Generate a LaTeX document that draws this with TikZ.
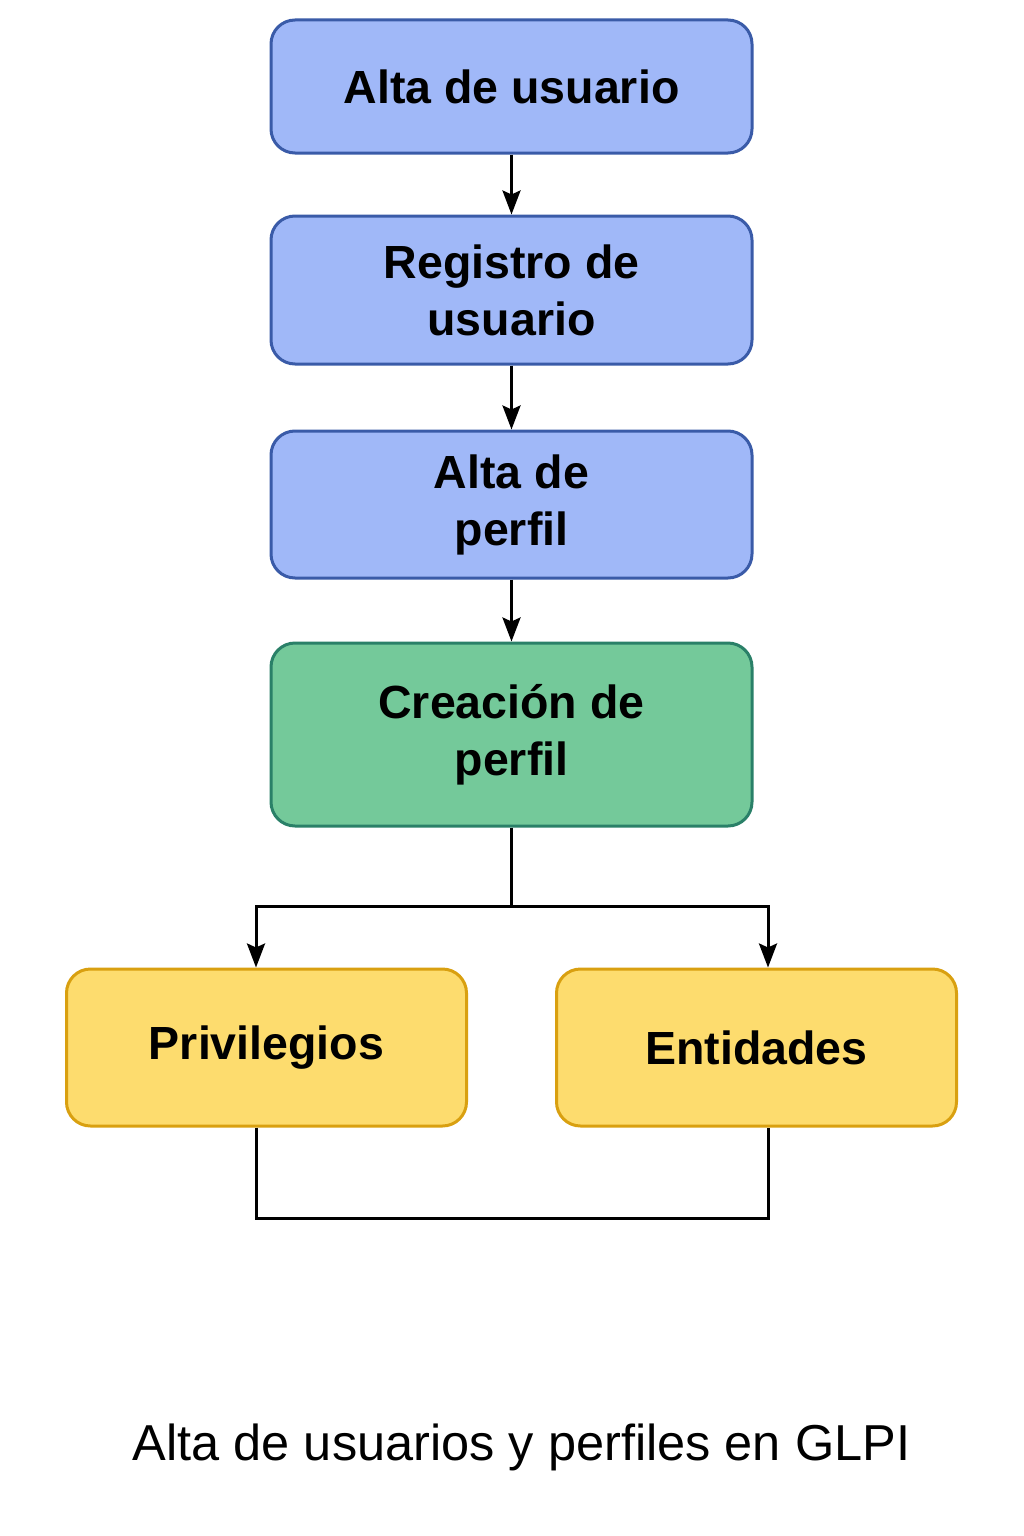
\documentclass[tikz,border=0pt]{standalone}
\usepackage{fontspec}
\setmainfont{Liberation Sans}
\usetikzlibrary{arrows.meta}
\definecolor{bluefill}{HTML}{A0B8F8}
\definecolor{blueline}{HTML}{3A5BA8}
\definecolor{greenfill}{HTML}{74C99A}
\definecolor{greenline}{HTML}{2A8068}
\definecolor{yellowfill}{HTML}{FDDC6E}
\definecolor{yellowline}{HTML}{D9A010}
\tikzset{
  boxbase/.style={rounded corners=24pt, line width=3pt, align=center,
    font=\fontsize{46.5}{57}\selectfont\bfseries, inner sep=0pt},
  bluebox/.style={boxbase, draw=blueline, fill=bluefill, minimum width=481pt},
  greenbox/.style={boxbase, draw=greenline, fill=greenfill, minimum width=481pt},
  yellowbox/.style={boxbase, draw=yellowline, fill=yellowfill, minimum width=400pt, minimum height=157pt},
  conn/.style={line width=3pt, black},
  arr/.style={conn, -{Stealth[length=24pt,width=18pt,inset=4pt]}},
}
\begin{document}
\begin{tikzpicture}[x=1pt,y=-1pt]
\useasboundingbox[fill=white] (0,0) rectangle (1024,1536);
\node[bluebox, minimum height=133pt] (a) at (511.5,86.5) {Alta de usuario};
\node[bluebox, minimum height=148pt] (b) at (511.5,290) {Registro de\\usuario};
\node[bluebox, minimum height=147pt] (c) at (511.5,504.5) {Alta de\\perfil};
\node[greenbox, minimum height=183pt] (d) at (511.5,734.5) {Creación de\\perfil};
\node[yellowbox] (p) at (266.5,1047.5) {Privilegios};
\node[yellowbox] (e) at (756.5,1047.5) {Entidades};
\node[font=\fontsize{50.5}{60}\selectfont] (t) at (521.5,1447) {Alta de usuarios y perfiles en GLPI};
\coordinate (j) at (511.5,906);
\coordinate (bl) at (256,1218);
\coordinate (br) at (768,1218);
\draw[arr] (a.south) -- (b.north);
\draw[arr] (b.south) -- (c.north);
\draw[arr] (c.south) -- (d.north);
\draw[conn] (d.south) -- (j);
\draw[arr] (j) -| ([xshift=-10.5pt]p.north);
\draw[arr] (j) -| ([xshift=11.5pt]e.north);
\draw[conn] ([xshift=-10.5pt]p.south) |- (bl) -- (br) -| ([xshift=11.5pt]e.south);
\end{tikzpicture}
\end{document}
